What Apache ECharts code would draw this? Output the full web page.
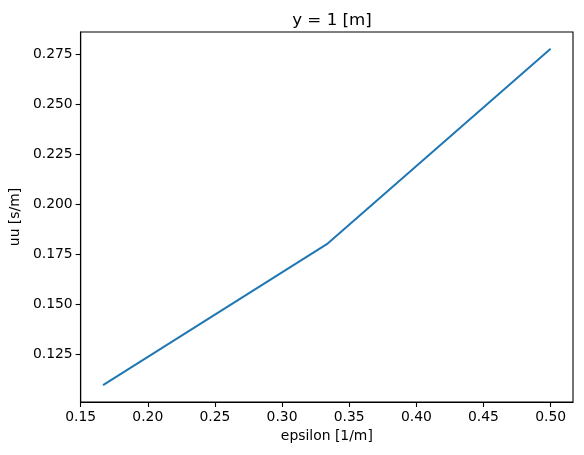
<!DOCTYPE html>
<html>
<head>
<meta charset="utf-8">
<script src="https://cdn.jsdelivr.net/npm/echarts@6/dist/echarts.min.js"></script>
<style>html,body{margin:0;padding:0;background:#fff}#c{width:584px;height:455px}</style>
</head>
<body>
<div id="c"></div>
<script>
const epsilon = [1/6, 1/3, 1/2];
const uu = [0.1094, 0.1800, 0.2778];
const xTicks = [0.15, 0.20, 0.25, 0.30, 0.35, 0.40, 0.45, 0.50];
const yTicks = [0.125, 0.150, 0.175, 0.200, 0.225, 0.250, 0.275];

function pad(arr) {
  const lo = Math.min(...arr), hi = Math.max(...arr);
  const m = (hi - lo) * 0.05;
  return [lo - m, hi + m];
}
const xr = pad(epsilon), yr = pad(uu);
const font = 'DejaVu Sans';

const chart = echarts.init(document.getElementById('c'), null, {renderer: 'canvas'});
chart.setOption({
  animation: false,
  backgroundColor: '#fff',
  title: {
    text: 'y = 1 [m]', left: 327, top: 7, textAlign: 'center',
    textStyle: {fontFamily: font, fontSize: 16.7, fontWeight: 'normal', color: '#000'}
  },
  grid: {left: 80, right: 11, top: 32, bottom: 53, show: true, borderColor: '#000', borderWidth: 1.1, backgroundColor: 'transparent'},
  xAxis: {
    type: 'value', min: xr[0], max: xr[1],
    name: 'epsilon [1/m]', nameLocation: 'middle', nameGap: 27,
    nameTextStyle: {fontFamily: font, fontSize: 13.9, color: '#000'},
    axisLine: {show: true, lineStyle: {color: '#000', width: 1.1}},
    axisTick: {show: true, length: 5, lineStyle: {color: '#000', width: 1.1}, customValues: xTicks},
    axisLabel: {fontFamily: font, fontSize: 13.9, color: '#000', margin: 8, customValues: xTicks,
      formatter: v => v.toFixed(2)},
    splitLine: {show: false}
  },
  yAxis: {
    type: 'value', min: yr[0], max: yr[1],
    name: 'uu [s/m]', nameLocation: 'middle', nameGap: 56, nameRotate: 90,
    nameTextStyle: {fontFamily: font, fontSize: 13.9, color: '#000'},
    axisLine: {show: true, lineStyle: {color: '#000', width: 1.1}},
    axisTick: {show: true, length: 5, lineStyle: {color: '#000', width: 1.1}, customValues: yTicks},
    axisLabel: {fontFamily: font, fontSize: 13.9, color: '#000', margin: 8, customValues: yTicks,
      formatter: v => v.toFixed(3)},
    splitLine: {show: false}
  },
  series: [{
    type: 'line', data: epsilon.map((x, i) => [x, uu[i]]),
    showSymbol: false, symbol: 'none',
    lineStyle: {color: '#1f77b4', width: 2}
  }]
});
</script>
</body>
</html>
